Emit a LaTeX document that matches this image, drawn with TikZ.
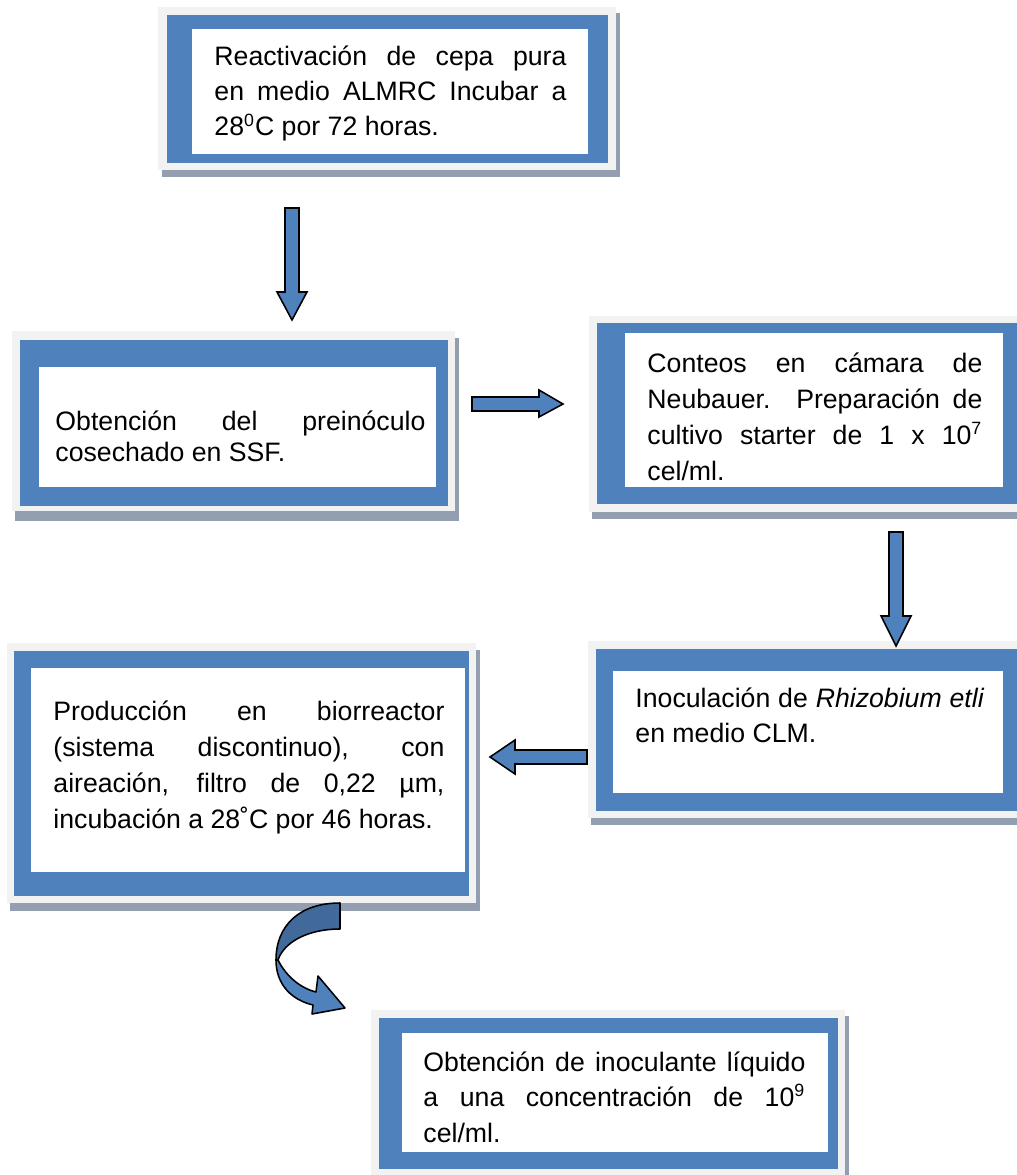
\documentclass[tikz,border=0pt]{standalone}
\usepackage{fontspec}
\setmainfont{Liberation Sans}
\definecolor{boxblue}{HTML}{4F81BD}
\definecolor{framegray}{HTML}{F2F2F2}
\definecolor{shadowgray}{HTML}{939FB0}
\definecolor{darkblue}{HTML}{41699A}
\newcommand\boxtext[3]{\parbox[t]{#1}{\fontsize{12}{#2}\selectfont\hyphenpenalty=10000 \exhyphenpenalty=10000 #3}}
\tikzset{
  shadowrect/.style={fill=shadowgray, draw=none},
  framerect/.style={fill=framegray, draw=none},
  bluerect/.style={fill=boxblue, draw=none},
  whiterect/.style={fill=white, draw=none},
  blockarrow/.style={fill=boxblue, draw=black, line width=0.7pt, line join=miter},
  backarrow/.style={fill=darkblue, draw=black, line width=0.7pt, line join=round},
  txt/.style={anchor=base west, inner sep=0pt},
}
\begin{document}
\begin{tikzpicture}[x=0.45pt,y=-0.45pt]
\useasboundingbox (0,0) rectangle (1016,1175);
\fill[white] (0,0) rectangle (1016,1175);

% ---------- Box 1
\fill[shadowrect] (162,13) rectangle (620,177);
\fill[framerect] (158,7) rectangle (616,170);
\fill[bluerect] (167,15) rectangle (608,163);
\fill[whiterect] (192,29) rectangle (588,154);
\node[txt] (t1) at (214,66) {\boxtext{158.4pt}{15.75pt}{Reactivación de cepa pura\linebreak en medio ALMRC Incubar a\linebreak 28\textsuperscript{0}C por 72 horas.}};

% ---------- Box 2
\fill[shadowrect] (15,338) rectangle (459,521);
\fill[framerect] (12,331) rectangle (455,511);
\fill[bluerect] (20,340) rectangle (448,506);
\fill[whiterect] (39,367) rectangle (436,487);
\node[txt] (t2) at (55,430) {\boxtext{166.5pt}{13.95pt}{Obtención del preinóculo\linebreak cosechado en SSF.}};

% ---------- Box 3
\fill[shadowrect] (592,322) rectangle (1020,519);
\fill[framerect] (589,316) rectangle (1020,512);
\fill[bluerect] (597,323) rectangle (1020,504);
\fill[whiterect] (625,333) rectangle (1003,487);
\node[txt] (t3) at (647,372) {\boxtext{150.75pt}{16.3pt}{Conteos en cámara de\linebreak Neubauer. Preparación de\linebreak cultivo starter de 1 x 10\textsuperscript{7}\linebreak cel/ml.}};

% ---------- Box 4
\fill[shadowrect] (10,650) rectangle (480,911);
\fill[framerect] (7,643) rectangle (476,903);
\fill[bluerect] (14,651) rectangle (469,896);
\fill[whiterect] (31,668) rectangle (465,872);
\node[txt] (t4) at (53,720) {\boxtext{175.95pt}{16.3pt}{Producción en biorreactor\linebreak (sistema discontinuo), con\linebreak aireación, filtro de 0,22 µm,\linebreak incubación a 28˚C por 46 horas.}};

% ---------- Box 5
\fill[shadowrect] (591,647) rectangle (1020,825);
\fill[framerect] (588,641) rectangle (1020,818);
\fill[bluerect] (596,649) rectangle (1020,811);
\fill[whiterect] (613,671) rectangle (1003,793);
\node[txt] (t5) at (635,707) {\boxtext{157pt}{15.75pt}{Inoculación de \textit{Rhizobium etli}\linebreak en medio CLM.}};

% ---------- Box 6
\fill[shadowrect] (374,1016) rectangle (849,1180);
\fill[framerect] (371,1010) rectangle (845,1180);
\fill[bluerect] (379,1018) rectangle (838,1169);
\fill[whiterect] (402,1033) rectangle (828,1152);
\node[txt] (t6) at (423,1071) {\boxtext{171.9pt}{16pt}{Obtención de inoculante líquido\linebreak a una concentración de 10\textsuperscript{9}\linebreak cel/ml.}};

% ---------- Block arrows
% down arrow 1
\draw[blockarrow] (285,208) -- (299,208) -- (299,292) -- (307,292) -- (292,320) -- (277,292) -- (285,292) -- cycle;
% right arrow
\draw[blockarrow] (472,397) -- (539,397) -- (539,390) -- (563,404) -- (539,417) -- (539,411) -- (472,411) -- cycle;
% down arrow 2
\draw[blockarrow] (889,532) -- (903,532) -- (903,616) -- (911,616) -- (896,646) -- (881,616) -- (889,616) -- cycle;
% left arrow
\draw[blockarrow] (587,750) -- (515,750) -- (515,740) -- (490,757) -- (515,774) -- (515,764) -- (587,764) -- cycle;

% ---------- Curved arrow
\draw[backarrow] (340,903) -- (340,929) .. controls (308,929) and (284,942) .. (278,960)
   -- (276,960) .. controls (276,925) and (300,903) .. cycle;
\draw[blockarrow, line join=round] (278,960) .. controls (286,976) and (300,988) .. (316,992)
   -- (318,976) -- (345,1008) -- (312,1014) -- (313,1005)
   .. controls (292,1000) and (276,985) .. (276,960) -- cycle;
\end{tikzpicture}
\end{document}
